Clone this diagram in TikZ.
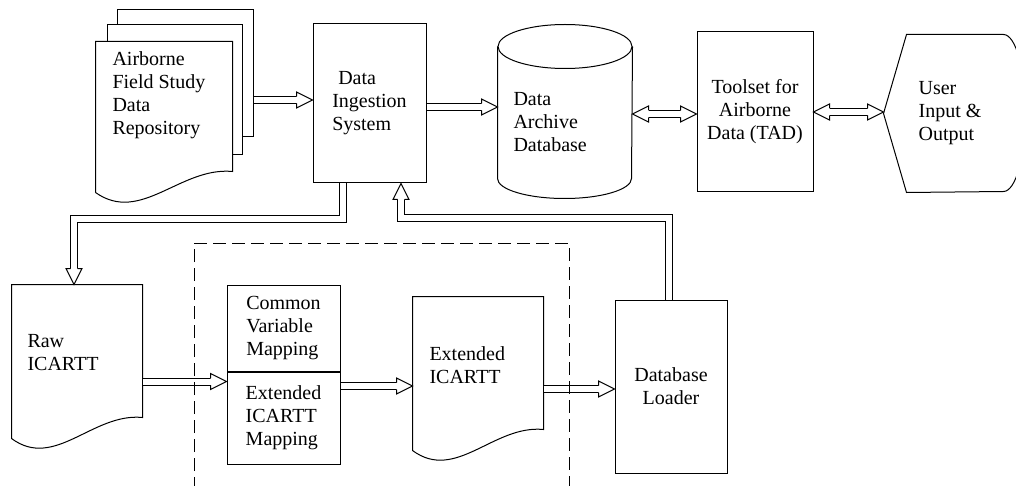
\documentclass[tikz,border=0pt]{standalone}
\usepackage{fontspec}
\setmainfont{Liberation Serif}
\usetikzlibrary{positioning,calc}
\newcommand{\diagfont}{\fontsize{20}{23}\selectfont}
% hollow arrow head at a named point, turned by #2
\newcommand{\hollowtip}[2]{%
  \begin{scope}[shift={(#1)}, rotate=#2]
    \fill[white] (0,0) -- (-16,8) -- (-16,-8) -- cycle;
    \draw[line join=miter] (-16,3.5) -- (-16,8) -- (0,0) -- (-16,-8) -- (-16,-3.5);
  \end{scope}}
% document sheet with a wavy lower edge round an empty node
\newcommand{\docpage}[1]{%
  \draw[fill=white] (#1.south west) -- (#1.north west) -- (#1.north east) -- ($(#1.south east)+(0,-21)$)
    .. controls ($(#1.south west)!0.62!(#1.south east)+(0,-26)$) and ($(#1.south west)!0.33!(#1.south east)+(0,32)$) .. (#1.south west);}

\begin{document}
\begin{tikzpicture}[x=1pt, y=-1pt, line width=1pt,
    box/.style={draw, inner sep=0pt, align=center, font=\diagfont},
    blank/.style={inner sep=0pt},
    txt/.style={inner sep=0pt, align=left, anchor=north west, font=\diagfont},
    pipe/.style={double, double distance=6pt, line join=miter},
    dashbox/.style={dash pattern=on 13pt off 6pt}
  ]
  \useasboundingbox (0,0) rectangle (1016,486);

  % top row
  \node[box, fill=white, minimum width=136pt, minimum height=127pt] at (185,73.5) (back1) {};
  \node[box, fill=white, minimum width=135pt, minimum height=130pt] at (174.5,90) (back2) {};
  \node[blank, minimum width=136pt, minimum height=150pt] at (164,117) (repo) {};
  \docpage{repo}
  \node[txt] at (112,51) (repo-txt) {Airborne\\Field Study\\Data\\Repository};

  \node[box, align=left, minimum width=113pt, minimum height=159pt] at (369.5,103.5) (dis) {\hspace*{6pt}Data\\Ingestion\\System};

  \node[blank, minimum width=134pt, minimum height=173pt] at (565,111.5) (db) {};
  \draw ([yshift=-22pt]db.north west) -- ([yshift=20pt]db.south west)
    arc[start angle=180, end angle=360, x radius=67pt, y radius=20pt] -- ([yshift=-22pt]db.north east);
  \draw ([yshift=-22pt]db.north) ellipse[x radius=67pt, y radius=22pt];
  \node[txt] at (513,92) (db-txt) {Data\\Archive\\Database};

  \node[box, minimum width=116pt, minimum height=160pt] at (755,112) (tad) {Toolset for\\Airborne\\Data (TAD)};

  \node[blank, align=left, font=\diagfont, minimum width=132pt, minimum height=157pt] at (950,113.5) (user) {User\\Input \&\\Output};
  \draw (user.west) -- ([xshift=23pt]user.north west) -- ([xshift=-13pt]user.north east)
    arc[start angle=90, end angle=-90, x radius=22pt, y radius=78.5pt] -- ([xshift=23pt]user.south west) -- cycle;

  % bottom row
  \node[blank, minimum width=130pt, minimum height=153pt] at (77,361.5) (raw) {};
  \docpage{raw}
  \node[txt] at (27,334) (raw-txt) {Raw\\ICARTT};

  \node[box, align=left, minimum width=113pt, minimum height=86pt] at (283.5,328) (mapc) {Common\\Variable\\Mapping};
  \node[box, align=left, minimum width=113pt, minimum height=92pt, below=0pt of mapc] (mape) {Extended\\ICARTT\\Mapping};

  \node[blank, minimum width=130pt, minimum height=153pt] at (478,373.5) (ext) {};
  \docpage{ext}
  \node[txt] at (429,346) (ext-txt) {Extended\\ICARTT};

  \node[box, minimum width=112pt, minimum height=173pt] at (671,386.5) (loader) {Database\\Loader};

  % arrows
  \coordinate (a1) at ([yshift=-26.5pt]back1.east);
  \coordinate (a1e) at (a1 -| dis.west);
  \draw[pipe, shorten >=16pt] (a1) -- (a1e);
  \hollowtip{a1e}{0}

  \coordinate (a2) at ([yshift=-3.5pt]dis.east);
  \coordinate (a2e) at (a2 -| db.west);
  \draw[pipe, shorten >=16pt] (a2) -- (a2e);
  \hollowtip{a2e}{0}

  \coordinate (a3) at ([yshift=-2.5pt]db.east);
  \coordinate (a3e) at (a3 -| tad.west);
  \draw[pipe, shorten <=16pt, shorten >=16pt] (a3) -- (a3e);
  \hollowtip{a3}{180}
  \hollowtip{a3e}{0}

  \coordinate (a4) at (tad.east);
  \coordinate (a4e) at (tad.east -| user.west);
  \draw[pipe, shorten <=16pt, shorten >=16pt] (a4) -- (a4e);
  \hollowtip{a4}{180}
  \hollowtip{a4e}{0}

  \coordinate (b1) at ([xshift=-26.5pt]dis.south);
  \coordinate (b1e) at ([xshift=-3pt]raw.north);
  \draw[pipe, shorten >=16pt] (b1) -- ++(0,36) -| (b1e);
  \hollowtip{b1e}{-90}

  \coordinate (b2) at ([yshift=-20pt]raw.east);
  \coordinate (b2e) at (b2 -| mape.west);
  \draw[pipe, shorten >=16pt] (b2) -- (b2e);
  \hollowtip{b2e}{0}

  \coordinate (b3) at ([yshift=32pt]mape.east);
  \coordinate (b3e) at (b3 -| ext.west);
  \draw[pipe, shorten >=16pt] (b3) -- (b3e);
  \hollowtip{b3e}{0}

  \coordinate (b4) at ([yshift=-15.5pt]ext.east);
  \coordinate (b4e) at (b4 -| loader.west);
  \draw[pipe, shorten >=16pt] (b4) -- (b4e);
  \hollowtip{b4e}{0}

  \coordinate (b5) at ([xshift=-2pt]loader.north);
  \coordinate (b5e) at ([xshift=31.5pt]dis.south);
  \draw[pipe, shorten >=16pt] (b5) -- ++(0,-81) -| (b5e);
  \hollowtip{b5e}{90}

  % dashed group
  \draw[dashbox] (194,490) -- (194,243) -- (569,243) -- (569,490);
\end{tikzpicture}
\end{document}
